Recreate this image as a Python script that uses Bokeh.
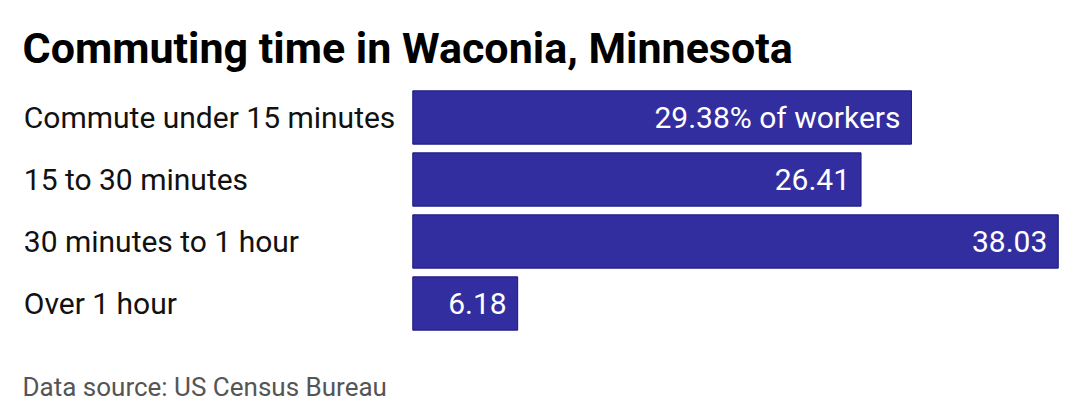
from bokeh.plotting import figure
from bokeh.models import ColumnDataSource, Label, FactorRange, Range1d
from bokeh.core.properties import value
from bokeh.embed import file_html
from bokeh.resources import INLINE

# datos del grafico
categorias = ["Commute under 15 minutes", "15 to 30 minutes",
              "30 minutes to 1 hour", "Over 1 hour"]
porcentajes = [29.38, 26.41, 38.03, 6.18]
etiquetas = ["29.38% of workers", "26.41", "38.03", "6.18"]

titulo = "Commuting time in Waconia, Minnesota"
fuente_datos = "Data source: US Census Bureau"

ANCHO = 1080
ALTO = 420

source = ColumnDataSource(data=dict(cat=categorias, val=porcentajes, lab=etiquetas))

# la primera categoria arriba
y_range = FactorRange(factors=categorias[::-1], range_padding=1.387,
                      range_padding_units="absolute")

p = figure(width=ANCHO, height=ALTO, x_range=Range1d(-24.29, 39.34),
           y_range=y_range, output_backend="svg", toolbar_location=None,
           min_border=0)
p.axis.visible = False
p.grid.visible = False
p.outline_line_color = None
p.background_fill_color = "white"

# barras
p.hbar(y="cat", left=0, right="val", height=0.86, source=source,
       fill_color="#332e9f", line_color="#1a1780", line_width=1)

# nombres de las categorias
p.text(x=0, y="cat", text="cat", source=source, x_offset=-389,
       text_align="left", text_baseline="middle",
       text_font=value("Roboto"), text_font_size="30px", text_color="#111111")

# valores dentro de las barras
p.text(x="val", y="cat", text="lab", source=source, x_offset=-11,
       text_align="right", text_baseline="middle",
       text_font=value("Roboto"), text_font_size="30px", text_color="white")

# titulo y fuente
p.add_layout(Label(x=22, y=373, x_units="screen", y_units="screen",
                   text=titulo, text_font="Roboto", text_font_size="43px",
                   text_font_style="bold", text_color="#000000",
                   text_baseline="alphabetic"))
p.add_layout(Label(x=22, y=33.5, x_units="screen", y_units="screen",
                   text=fuente_datos, text_font="Roboto", text_font_size="26px",
                   text_color="#555555", text_baseline="alphabetic"))

open("out.html", "w").write(file_html(p, INLINE))
